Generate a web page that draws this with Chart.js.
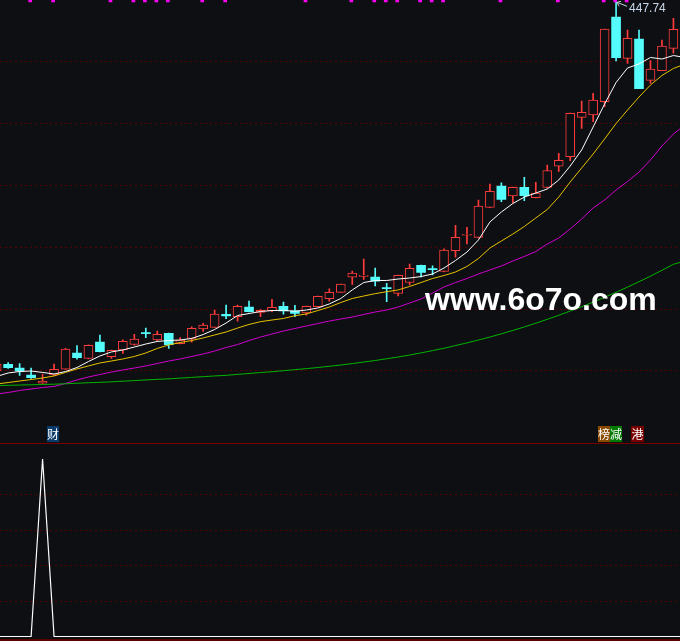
<!DOCTYPE html>
<html>
<head>
<meta charset="utf-8">
<script src="https://cdn.jsdelivr.net/npm/chart.js@4.4.0/dist/chart.umd.min.js"></script>
<style>
  html, body { margin: 0; padding: 0; background: #0e0f12; }
  #wrap { position: relative; width: 680px; height: 641px; overflow: hidden; background: #0e0f12; }
  #mainBox { position: absolute; left: 0; top: 0; width: 680px; height: 443px; }
  #subBox { position: absolute; left: 0; top: 444px; width: 680px; height: 197px; }
  .line { position: absolute; left: 0; width: 680px; }
  .tag { position: absolute; top: 426px; width: 12px; height: 16px; font: 12px/16px "Noto Sans CJK SC"; color: #fff; text-align: center; }
  #site { position: absolute; left: 425px; top: 283px; font: bold 32px/32px "Liberation Sans"; color: #fff; white-space: nowrap; }
</style>
</head>
<body>
<div id="wrap">
  <div id="mainBox"><canvas id="mainChart" width="680" height="443"></canvas></div>
  <div class="line" style="top:443px;height:1px;background:#7a0000"></div>
  <div id="subBox"><canvas id="subChart" width="680" height="197"></canvas></div>
  <div class="line" style="top:639px;height:2px;background:#5a0000"></div>
  <div class="tag" style="left:47px;background:#0b3b6a">财</div>
  <div class="tag" style="left:598px;background:#8a4a00">榜</div>
  <div class="tag" style="left:610px;background:#007a00">减</div>
  <div class="tag" style="left:631px;width:13px;background:#7a0000">港</div>
  <div id="site">www.6o7o.com</div>
</div>
<script>
// daily candles, oldest first
const opens  = [90.1, 96.3, 92.7, 85.9, 77.9, 85.9, 91.5, 107.3, 101.9, 117.8,
                103.7, 110.2, 115.5, 126.5, 119.9, 126.5, 116.3, 121.4, 130.6, 132.2,
                144.9, 142.5, 151.9, 146.6, 148.3, 152.6, 148.3, 146.1, 152.2, 160.0,
                166.2, 180.8, 181.7, 181.1, 170.4, 165.1, 175.7, 192.4, 188.8, 186.4,
                206.6, 221.6, 219.6, 248.7, 269.4, 259.7, 268.2, 258.1, 268.0, 288.6,
                297.9, 336.1, 338.4, 351.3, 433.5, 393.4, 412.1, 372.0, 381.4, 403.1];
const highs  = [97.6, 97.9, 97.1, 92.7, 86.9, 96.6, 111.8, 114.4, 115.2, 124.8,
                110.2, 120.1, 125.5, 131.4, 128.5, 126.7, 122.3, 132.8, 136.1, 149.0,
                153.7, 153.9, 157.8, 149.5, 159.4, 156.8, 153.6, 152.9, 162.6, 169.7,
                174.3, 186.7, 198.5, 189.8, 175.0, 183.0, 193.5, 192.7, 191.8, 208.3,
                231.3, 229.3, 255.8, 271.4, 272.6, 268.4, 277.9, 273.0, 289.8, 301.2,
                340.3, 351.9, 359.4, 421.8, 447.74, 420.9, 420.9, 391.1, 411.2, 432.2];
const lows   = [88.8, 92.2, 85.4, 82.7, 77.7, 85.4, 91.3, 101.2, 101.5, 108.3,
                101.9, 106.8, 114.8, 122.1, 118.6, 111.7, 116.0, 117.7, 128.2, 132.0,
                140.5, 138.3, 147.1, 142.5, 147.4, 145.1, 142.5, 143.9, 151.9, 157.5,
                166.0, 173.8, 178.8, 172.3, 157.1, 162.6, 173.3, 181.1, 183.0, 185.9,
                200.2, 213.1, 218.9, 248.5, 254.2, 253.2, 255.2, 257.8, 267.5, 283.5,
                294.0, 325.4, 331.8, 346.4, 390.8, 388.5, 363.9, 369.1, 381.4, 398.3];
const closes = [96.3, 93.0, 89.8, 83.3, 80.1, 91.5, 111.2, 102.7, 114.8, 108.5,
                109.9, 118.6, 120.7, 126.1, 125.5, 115.3, 119.9, 131.3, 134.3, 145.1,
                143.4, 152.6, 147.4, 148.8, 151.7, 148.1, 145.8, 152.6, 162.3, 166.2,
                174.1, 184.8, 183.0, 177.0, 169.8, 182.7, 189.6, 185.4, 188.3, 207.3,
                219.6, 222.0, 250.0, 264.3, 256.5, 268.2, 260.0, 262.6, 284.5, 294.4,
                340.0, 341.0, 352.9, 421.8, 394.0, 412.8, 363.9, 383.0, 405.3, 421.6];

// moving average lines as drawn (one extra point past the last candle)
const maWhite  = [84.5, 87.9, 89.3, 89.8, 88.4, 86.9, 89.3, 93.2, 99.0, 104.4,
                  108.3, 110.2, 113.1, 116.0, 118.5, 119.4, 119.9, 121.4, 125.2, 130.1,
                  136.4, 143.7, 145.6, 147.6, 148.5, 148.7, 147.8, 149.0, 151.0, 154.9,
                  160.2, 168.5, 175.7, 177.7, 177.7, 179.1, 180.1, 181.5, 184.0, 189.8,
                  197.1, 205.3, 217.0, 234.5, 244.2, 252.4, 258.7, 262.6, 266.5, 275.2,
                  288.8, 304.4, 326.7, 349.0, 369.9, 384.0, 387.9, 394.2, 392.7, 396.1, 394.2];
const maYellow = [77.2, 78.6, 80.1, 81.5, 83.0, 85.0, 88.4, 91.8, 94.7, 97.6,
                  99.5, 101.5, 103.9, 107.3, 111.7, 115.1, 117.5, 119.4, 121.9, 124.8,
                  127.7, 131.5, 135.0, 137.7, 139.3, 140.8, 143.5, 145.2, 148.5, 151.9,
                  156.3, 160.2, 162.6, 164.9, 166.8, 168.5, 171.9, 175.7, 179.6, 182.5,
                  185.9, 191.3, 199.0, 209.2, 216.0, 222.8, 230.1, 238.4, 246.6, 258.7,
                  273.3, 286.9, 300.5, 315.1, 330.1, 343.2, 355.8, 367.5, 376.7, 383.5, 387.9];
const maPurple = [67.5, 68.9, 70.9, 72.3, 73.8, 74.8, 77.7, 81.1, 84.0, 86.4,
                  88.8, 90.8, 92.7, 94.7, 97.1, 99.5, 101.5, 103.9, 106.3, 109.2,
                  112.6, 115.5, 119.4, 122.8, 125.7, 128.6, 131.1, 133.5, 135.9, 138.3,
                  140.3, 142.2, 144.7, 147.1, 149.0, 151.9, 155.8, 159.7, 165.5, 171.4,
                  175.7, 179.6, 184.0, 187.9, 191.8, 196.6, 201.0, 205.8, 213.1, 218.9,
                  227.7, 237.4, 248.1, 255.8, 265.5, 273.8, 283.0, 294.7, 308.3, 319.9, 328.6];
const maGreen  = [75.7, 75.9, 76.2, 76.4, 76.7, 77.0, 77.4, 77.9, 78.4, 78.8,
                  79.3, 79.9, 80.5, 81.1, 81.7, 82.2, 82.9, 83.6, 84.3, 85.0,
                  85.6, 86.5, 87.4, 88.3, 89.1, 90.1, 91.1, 92.1, 93.2, 94.4,
                  95.6, 97.0, 98.5, 100.0, 101.7, 103.4, 105.3, 107.4, 109.6, 111.9,
                  114.5, 117.1, 119.9, 122.8, 125.9, 129.2, 132.6, 136.2, 140.0, 143.9,
                  148.0, 152.2, 156.7, 161.4, 166.2, 171.3, 176.5, 181.9, 187.6, 193.4, 196.6];

// days flagged by the magenta ticks along the top
const markDays = [3, 5, 10, 12, 13, 14, 15, 18, 20, 27, 31, 33, 34, 35, 37, 38, 39, 44, 49, 53, 54, 55];

// lower indicator panel
const signal = [0, 0, 0, 0, 1, 0, 0, 0, 0, 0, 0, 0, 0, 0, 0, 0, 0, 0, 0, 0,
                0, 0, 0, 0, 0, 0, 0, 0, 0, 0, 0, 0, 0, 0, 0, 0, 0, 0, 0, 0,
                0, 0, 0, 0, 0, 0, 0, 0, 0, 0, 0, 0, 0, 0, 0, 0, 0, 0, 0, 0, 0];

// price axis ticks
const priceMin = 30, priceMax = 450, priceStep = 60;
const signalMin = 0, signalMax = 1, signalStep = 0.2;

const UP = '#ff3c3c';
const DOWN = '#54fcfc';
const BG = '#0e0f12';
const GRID = '#560000';

const xMin = 0.288, xMax = 59.573;
const isUp = closes.map((c, i) => c > opens[i] || (c === opens[i] && i === 41));
const toXY = arr => arr.map((v, i) => ({ x: i, y: v }));

const peakLabel = {
  id: 'peakLabel',
  afterDatasetsDraw(chart) {
    const top = Math.max(...highs);
    const idx = highs.indexOf(top);
    const x = chart.scales.x.getPixelForValue(idx);
    const y = chart.scales.y.getPixelForValue(top);
    const ctx = chart.ctx;
    ctx.save();
    ctx.strokeStyle = '#c8d4e0';
    ctx.lineWidth = 1;
    ctx.beginPath();
    ctx.moveTo(x + 1, y);
    ctx.lineTo(x + 11, y + 4);
    ctx.moveTo(x + 1, y);
    ctx.lineTo(x + 5, y - 1);
    ctx.moveTo(x + 1, y);
    ctx.lineTo(x + 3, y + 4);
    ctx.stroke();
    ctx.fillStyle = '#c8d8ea';
    ctx.font = '12px "Liberation Sans"';
    ctx.fillText(top.toFixed(2), x + 13, y + 9.5);
    ctx.restore();
  }
};

function hideEdges(min, max, color) {
  return c => (c.tick && (Math.abs(c.tick.value - min) < 1e-6 || Math.abs(c.tick.value - max) < 1e-6)) ? 'rgba(0,0,0,0)' : color;
}

new Chart(document.getElementById('mainChart'), {
  type: 'bar',
  data: {
    datasets: [
      {
        type: 'bar',
        label: 'wick',
        data: highs.map((h, i) => ({ x: i, y: [lows[i], h] })),
        backgroundColor: c => isUp[c.dataIndex] ? UP : DOWN,
        borderWidth: 0,
        barThickness: 1,
        grouped: false,
        order: 4
      },
      {
        type: 'bar',
        label: 'body',
        data: opens.map((o, i) => ({ x: i, y: [Math.min(o, closes[i]), Math.max(o, closes[i])] })),
        backgroundColor: c => isUp[c.dataIndex] ? BG : DOWN,
        borderColor: c => isUp[c.dataIndex] ? UP : DOWN,
        borderWidth: c => isUp[c.dataIndex] ? 1 : 0,
        borderSkipped: false,
        minBarLength: 1,
        barThickness: 9,
        grouped: false,
        order: 3
      },
      { type: 'line', label: 'green', data: toXY(maGreen), borderColor: '#00b400', borderWidth: 1, pointRadius: 0, tension: 0, order: 2 },
      { type: 'line', label: 'purple', data: toXY(maPurple), borderColor: '#d000d0', borderWidth: 1, pointRadius: 0, tension: 0, order: 2 },
      { type: 'line', label: 'yellow', data: toXY(maYellow), borderColor: '#e6c200', borderWidth: 1, pointRadius: 0, tension: 0, order: 2 },
      { type: 'line', label: 'white', data: toXY(maWhite), borderColor: '#ffffff', borderWidth: 1, pointRadius: 0, tension: 0, order: 1 },
      {
        type: 'bar',
        label: 'marks',
        data: markDays.map(i => ({ x: i - 0.08, y: [priceMax - 2 * priceStep / 61.8, priceMax] })),
        backgroundColor: '#ff00ff',
        borderWidth: 0,
        barThickness: 3,
        grouped: false,
        order: 0
      }
    ]
  },
  options: {
    responsive: false,
    devicePixelRatio: 1,
    animation: false,
    events: [],
    layout: { padding: { top: 0, bottom: 10.4, left: 0, right: 0 } },
    scales: {
      x: { type: 'linear', display: false, min: xMin, max: xMax, offset: false },
      y: {
        min: priceMin,
        max: priceMax,
        ticks: { display: false, stepSize: priceStep },
        grid: { color: hideEdges(priceMin, priceMax, GRID), drawTicks: false, lineWidth: 1 },
        border: { display: false, dash: [2, 3] },
        afterFit: s => { s.width = 0; }
      }
    },
    plugins: { legend: { display: false }, tooltip: { enabled: false } }
  },
  plugins: [peakLabel]
});

new Chart(document.getElementById('subChart'), {
  type: 'line',
  data: {
    datasets: [{
      data: toXY(signal),
      borderColor: '#ffffff',
      borderWidth: 1.2,
      pointRadius: 0,
      tension: 0,
      clip: 4
    }]
  },
  options: {
    responsive: false,
    devicePixelRatio: 1,
    animation: false,
    events: [],
    layout: { padding: { top: 15, bottom: 4.5, left: 0, right: 0 } },
    scales: {
      x: { type: 'linear', display: false, min: xMin, max: xMax },
      y: {
        min: signalMin,
        max: signalMax,
        ticks: { display: false, stepSize: signalStep },
        grid: { color: hideEdges(signalMin, signalMax, GRID), drawTicks: false },
        border: { display: false, dash: [2, 3] },
        afterFit: s => { s.width = 0; }
      }
    },
    plugins: { legend: { display: false }, tooltip: { enabled: false } }
  }
});
</script>
</body>
</html>
